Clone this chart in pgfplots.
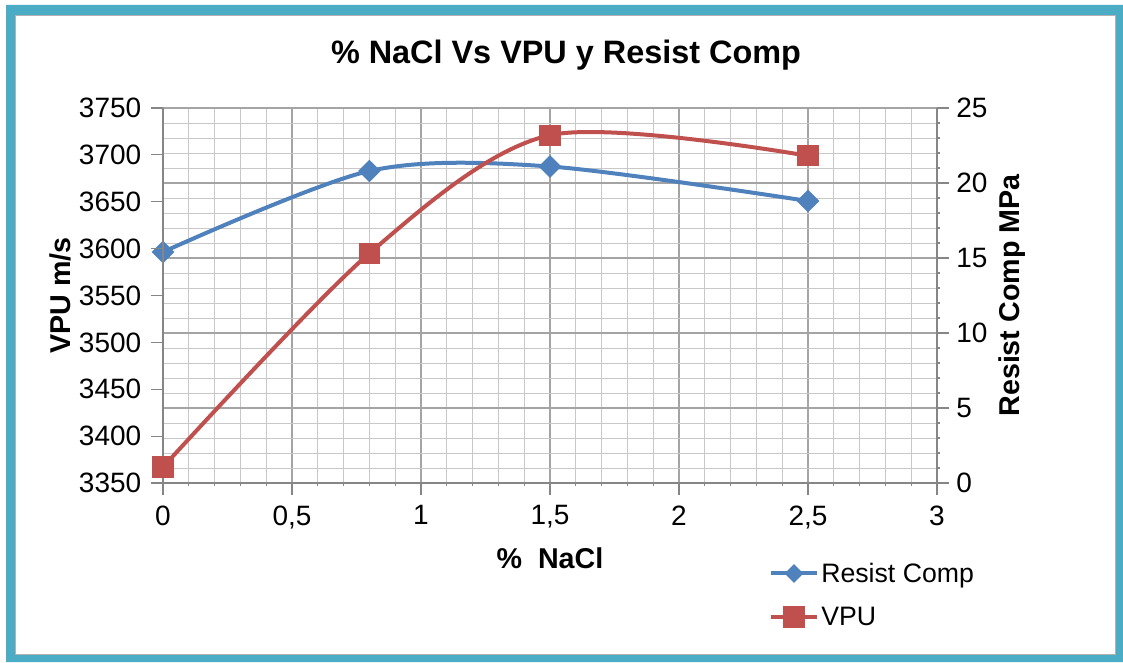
\documentclass[border=0pt]{standalone}
\usepackage{fontspec}
\setmainfont{Liberation Sans}
\usepackage{pgfplots}
\pgfplotsset{compat=1.18}

\definecolor{frameteal}{HTML}{4BACC6}
\definecolor{resblue}{HTML}{4F81BD}
\definecolor{vpured}{HTML}{C0504D}
\definecolor{gridmajor}{HTML}{A4A4A4}
\definecolor{gridminor}{HTML}{C8C8C8}
\definecolor{axisgray}{HTML}{868686}

\pgfplotsset{
  base/.style={
    scale only axis, width=580.5pt, height=281.25pt,
    xmin=0, xmax=3,
    at={(122.25pt,134.25pt)}, anchor=south west,
    /pgf/number format/assume math mode=true,
    /pgf/number format/use comma,
    /pgf/number format/1000 sep={},
    tick label style={font=\fontsize{21}{25}\selectfont},
    label style={font=\fontsize{21.5}{25}\selectfont\bfseries},
    tick align=outside,
    major tick length=9pt, minor tick length=2pt,
    every tick/.style={axisgray, line width=0.8pt},
    axis line style={axisgray, line width=0.8pt},
  },
  resstyle/.style={resblue, line width=3pt, smooth,
    mark=square*, mark size=4.5pt, mark options={solid, rotate=45, fill=resblue}},
  vpustyle/.style={vpured, line width=3pt, smooth,
    mark=square*, mark size=6.5pt, mark options={solid, fill=vpured}},
}

\begin{document}
\begin{tikzpicture}
\useasboundingbox (0pt,0pt) rectangle (842.25pt,496.5pt);
% outer frame
\fill[frameteal, even odd rule] (4.5pt,0pt) rectangle (842.25pt,492.75pt)
  (11.25pt,5.25pt) rectangle (837pt,485.25pt);
\draw[gray!60, line width=0.7pt] (11.6pt,5.6pt) rectangle (836.6pt,484.9pt);

% right axis: compressive strength, carries the grid
\begin{axis}[base,
  ymin=0, ymax=25, ytick distance=5, minor y tick num=4,
  xtick distance=0.5, minor x tick num=4,
  axis y line*=right, axis x line*=bottom,
  grid=both,
  major grid style={gridmajor, line width=0.8pt},
  minor grid style={gridminor, line width=0.7pt},
  xticklabel style={yshift=-4.5pt},
  yticklabel style={xshift=2pt},
  ylabel={Resist Comp MPa},
  ylabel style={at={(axis description cs:1.097,0.5)}, anchor=center},
  xlabel={\%\ \ NaCl},
  xlabel style={at={(axis description cs:0.5,-0.2)}, anchor=center},
]
\addplot[resstyle] coordinates {(0,15.4) (0.8,20.8) (1.5,21.1) (2.5,18.8)};
\end{axis}

% left axis: ultrasonic pulse velocity
\begin{axis}[base,
  ymin=3350, ymax=3750, ytick distance=50,
  axis y line*=left, axis x line=none,
  yticklabel style={xshift=-3.75pt},
  ylabel={VPU m/s},
  ylabel style={at={(axis description cs:-0.133,0.5)}, anchor=center},
  legend image code/.code={\draw[mark repeat=2, mark phase=2]
    plot coordinates {(0pt,0pt) (17pt,0pt) (34pt,0pt)};},
  legend style={at={(axis description cs:0.783,-0.205)}, anchor=north west,
    draw=none, fill=none, font=\fontsize{20}{24}\selectfont,
    row sep=13pt, inner sep=0pt, cells={anchor=west}},
]
\addlegendimage{resstyle, mark size=3.5pt}
\addlegendentry{Resist Comp}
\addplot[vpustyle] coordinates {(0,3367) (0.8,3595) (1.5,3721) (2.5,3699)};
\addlegendentry{VPU}
\end{axis}

\node[font=\fontsize{24.3}{28}\selectfont\bfseries] at (424.5pt,455.25pt)
  {\% NaCl Vs VPU y Resist Comp};
\end{tikzpicture}
\end{document}
